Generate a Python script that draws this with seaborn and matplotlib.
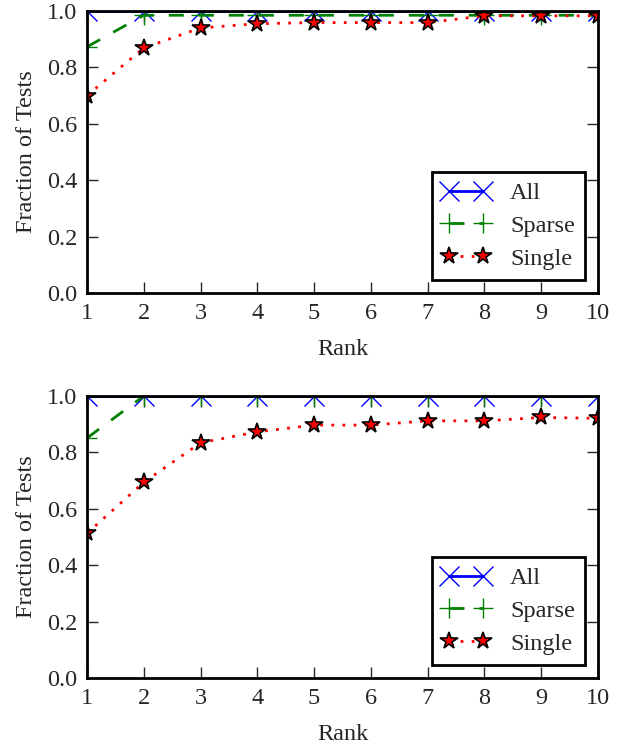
import matplotlib
matplotlib.use("Agg")
import matplotlib.pyplot as plt
import seaborn as sns

ranks = [1, 2, 3, 4, 5, 6, 7, 8, 9, 10]

top_all = [1.0, 1.0, 1.0, 1.0, 1.0, 1.0, 1.0, 1.0, 1.0, 1.0]
top_sparse = [0.873, 0.985, 0.985, 0.985, 0.985, 0.985, 0.985, 0.985, 0.985, 0.985]
top_single = [0.70, 0.869, 0.940, 0.955, 0.959, 0.959, 0.959, 0.983, 0.983, 0.983]

bot_all = [1.0, 1.0, 1.0, 1.0, 1.0, 1.0, 1.0, 1.0, 1.0, 1.0]
bot_sparse = [0.851, 1.0, 1.0, 1.0, 1.0, 1.0, 1.0, 1.0, 1.0, 1.0]
bot_single = [0.513, 0.694, 0.834, 0.873, 0.897, 0.897, 0.912, 0.912, 0.924, 0.921]

labels = ["All", "Sparse", "Single"]
y_ticks = [0.0, 0.2, 0.4, 0.6, 0.8, 1.0]

sns.set_style("ticks")
plt.rcParams["font.family"] = ["Liberation Serif", "DejaVu Serif"]
FS = 17.5
plt.rcParams["font.size"] = FS

fig = plt.figure(figsize=(6.28, 7.45), dpi=100)
ax1 = fig.add_axes([0.1385, 0.6067, 0.8137, 0.3785])
ax2 = fig.add_axes([0.1385, 0.0899, 0.8137, 0.3785])

styles = [
    dict(color="blue", marker="x", linestyle="-", markersize=15, markeredgecolor="blue",
         markeredgewidth=1.0, linewidth=2),
    dict(color="green", marker="+", linestyle=(0, (5.4, 5.4)), markersize=14, markeredgecolor="green",
         markeredgewidth=1.0, linewidth=2),
    dict(color="red", marker="*", linestyle=(0, (1, 3)), markersize=13, markeredgecolor="black",
         markeredgewidth=1.2, linewidth=2),
]

for ax, series in ((ax1, (top_all, top_sparse, top_single)), (ax2, (bot_all, bot_sparse, bot_single))):
    for vals, lab, st in zip(series, labels, styles):
        sns.lineplot(x=ranks, y=vals, ax=ax, label=lab, **st)
    ax.set_xlim(1, 10)
    ax.set_ylim(0, 1.0)
    ax.set_xticks(ranks)
    ax.set_yticks(y_ticks)
    ax.set_yticklabels([f"{t:.1f}" for t in y_ticks])
    ax.set_xlabel("Rank", fontsize=FS, labelpad=11)
    ax.set_ylabel("Fraction of Tests", fontsize=FS, labelpad=7)
    for sp in ax.spines.values():
        sp.set_visible(True)
        sp.set_linewidth(2)
        sp.set_color("black")
    ax.tick_params(direction="in", length=8, width=1.0, top=True, right=True, labelsize=FS, pad=7)
    leg = ax.legend(loc="lower right", numpoints=2, handlelength=2.0, handletextpad=0.8,
                    labelspacing=0.45, borderaxespad=0.55, borderpad=0.4, fancybox=False, framealpha=1,
                    edgecolor="black", fontsize=FS)
    leg.get_frame().set_linewidth(2)

fig.savefig("out.png", dpi=100)
